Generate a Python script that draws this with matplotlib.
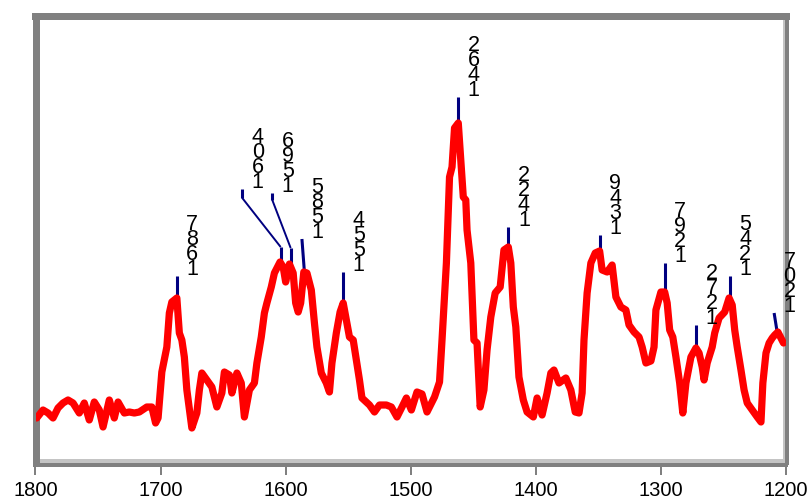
import numpy as np
import matplotlib
matplotlib.use("Agg")
import matplotlib.pyplot as plt
from matplotlib.transforms import ScaledTranslation

plt.rcParams['font.family'] = ['Liberation Sans', 'DejaVu Sans']

# ---------------- data ----------------
wavenumber = [1799, 1794, 1790, 1786, 1782, 1778, 1774, 1770, 1765, 1761,
              1757, 1753, 1749, 1746, 1741, 1737, 1734, 1729, 1725, 1721,
              1717, 1711, 1707, 1704, 1702, 1699, 1695, 1693, 1691, 1687,
              1685, 1683, 1681, 1679, 1675, 1671, 1669, 1667, 1663, 1659,
              1655, 1651, 1649, 1645, 1643, 1639, 1635.5, 1633, 1629, 1625,
              1623, 1619.5, 1617, 1615, 1611.5, 1609, 1604.5, 1602, 1600, 1597,
              1594, 1592, 1590, 1588, 1585.5, 1583, 1579.5, 1577, 1575, 1571.5,
              1567.5, 1565, 1563, 1559.5, 1556.5, 1554, 1551.5, 1549, 1546, 1543.5,
              1541, 1539, 1533, 1529, 1525, 1519.5, 1515.5, 1511, 1507, 1503.5,
              1499.5, 1495, 1491, 1487, 1481, 1477, 1475, 1471.5, 1469, 1467,
              1465, 1462, 1460, 1458, 1456, 1455, 1452, 1449.5, 1447, 1444.5,
              1441.5, 1439, 1436, 1432.5, 1428.5, 1425.5, 1422, 1420, 1418, 1416,
              1413.5, 1410, 1407, 1402, 1399, 1395, 1391, 1388, 1385.5, 1381.5,
              1376, 1372, 1368.5, 1365.5, 1363, 1361.5, 1359, 1356, 1352.5, 1349,
              1347, 1343, 1339, 1336, 1332, 1328, 1325.5, 1321.5, 1317.5, 1315,
              1312, 1308, 1305.5, 1304, 1300, 1297, 1295, 1293, 1290.5, 1288,
              1285, 1282.5, 1280, 1276, 1272, 1269.5, 1267, 1265.5, 1263, 1259,
              1257, 1253.5, 1249, 1245.5, 1243, 1241, 1239, 1236, 1233.5, 1231,
              1227, 1223, 1220, 1218.5, 1216, 1213.5, 1211, 1209, 1206.5, 1202]

absorbance = [45, 53, 50, 45, 55, 60, 63, 60, 50, 60,
              43, 61, 53, 36, 63, 45, 61, 50, 51, 50,
              51, 56, 56, 40, 45, 91, 116, 150, 161, 165,
              130, 123, 106, 73, 35, 50, 73, 90, 83, 76,
              56, 70, 91, 88, 70, 90, 80, 46, 73, 80,
              100, 126, 150, 160, 176, 190, 201, 196, 181, 199,
              190, 160, 151, 160, 191, 190, 173, 140, 116, 90,
              80, 71, 100, 130, 151, 160, 143, 126, 123, 103,
              83, 65, 58, 51, 58, 58, 56, 46, 56, 65,
              53, 71, 69, 51, 66, 81, 123, 200, 286, 296,
              335, 340, 303, 266, 263, 233, 200, 123, 120, 56,
              73, 113, 146, 170, 176, 213, 216, 200, 156, 136,
              86, 63, 51, 46, 65, 48, 70, 90, 93, 80,
              85, 73, 51, 50, 70, 123, 170, 200, 210, 212,
              193, 191, 198, 166, 156, 153, 138, 131, 126, 116,
              100, 102, 116, 153, 171, 171, 160, 133, 126, 106,
              80, 50, 80, 106, 115, 110, 96, 83, 100, 116,
              130, 145, 151, 165, 158, 133, 116, 93, 73, 60,
              53, 46, 41, 80, 110, 120, 125, 128, 131, 120]

peak_labels = [1687, 1604, 1596, 1585, 1554, 1462, 1422, 1349, 1297, 1272, 1245, 1207]
x_ticks = [1800, 1700, 1600, 1500, 1400, 1300, 1200]

# leader-line layout for each peak label (vertices above the curve)
leaders = {
    1687: [(1687, 187)],
    1604: [(1604, 216), (1634.7, 265), (1634.7, 274)],
    1596: [(1596, 215), (1610.7, 263), (1610.7, 270)],
    1585: [(1587, 224)],
    1554: [(1554, 191)],
    1462: [(1462, 366)],
    1422: [(1422, 236)],
    1349: [(1349, 228)],
    1297: [(1297, 200)],
    1272: [(1272, 138)],
    1245: [(1245, 187)],
    1207: [(1209.5, 150)],
}

# ---------------- figure ----------------
W, H, DPI = 809, 503, 100
fig = plt.figure(figsize=(W / DPI, H / DPI), dpi=DPI)
ax = fig.add_axes([35.5 / W, (H - 463) / H, (786 - 35.5) / W, (463 - 15.5) / H])

ax.plot(wavenumber, absorbance, color='#ff0000', lw=5.2,
        solid_joinstyle='round', solid_capstyle='round', zorder=3)

wn_arr = np.array(wavenumber)[::-1]
ab_arr = np.array(absorbance)[::-1]
for pk in peak_labels:
    yv = np.interp(pk, wn_arr, ab_arr)
    pts = [(pk, yv)] + leaders[pk]
    for (x0, y0), (x1, y1) in zip(pts[:-1], pts[1:]):
        vertical = abs(x1 - x0) < 3
        ax.plot([x0, x1], [y0, y1], color='#000080',
                lw=2.2 if vertical else 1.4, zorder=2, clip_on=False,
                solid_capstyle='butt')
    lx, ly = pts[-1]
    for i, d in enumerate(str(pk)):
        ax.annotate(d, xy=(lx, ly), xytext=(15.5, 1 + i * 15),
                    textcoords='offset pixels', ha='center', va='baseline',
                    fontsize=15.5, color='black', annotation_clip=False, zorder=4)

ax.set_xlim(1800, 1200)
ax.set_ylim(0, 447.5)
ax.set_xticks(x_ticks)
ax.set_xticklabels([str(t) for t in x_ticks])
ax.set_yticks([])

px = 72.0 / DPI
dark = '#808080'
light = '#c4c4c4'
for s in ['left', 'top']:
    ax.spines[s].set_color(dark)
    ax.spines[s].set_linewidth(7 * px)
ax.spines['bottom'].set_color(dark)
ax.spines['bottom'].set_linewidth(4 * px)
ax.spines['bottom'].set_position(('outward', 2 * px))
ax.spines['right'].set_color(dark)
ax.spines['right'].set_linewidth(4 * px)
ax.spines['right'].set_position(('outward', 1 * px))

ax.plot([0, 1], [0, 0], color=light, lw=4 * px, clip_on=False, zorder=1,
        transform=ax.transAxes + ScaledTranslation(0, 2 / DPI, fig.dpi_scale_trans))
ax.plot([1, 1], [0, 1], color=light, lw=2 * px, clip_on=False, zorder=1,
        transform=ax.transAxes + ScaledTranslation(-2 / DPI, 0, fig.dpi_scale_trans))

ax.tick_params(axis='x', direction='out', length=10 * px, width=2 * px,
               color=dark, labelsize=14.5, pad=4, labelcolor='black')
ax.tick_params(axis='y', left=False, labelleft=False)

fig.savefig('out.png', dpi=DPI)
